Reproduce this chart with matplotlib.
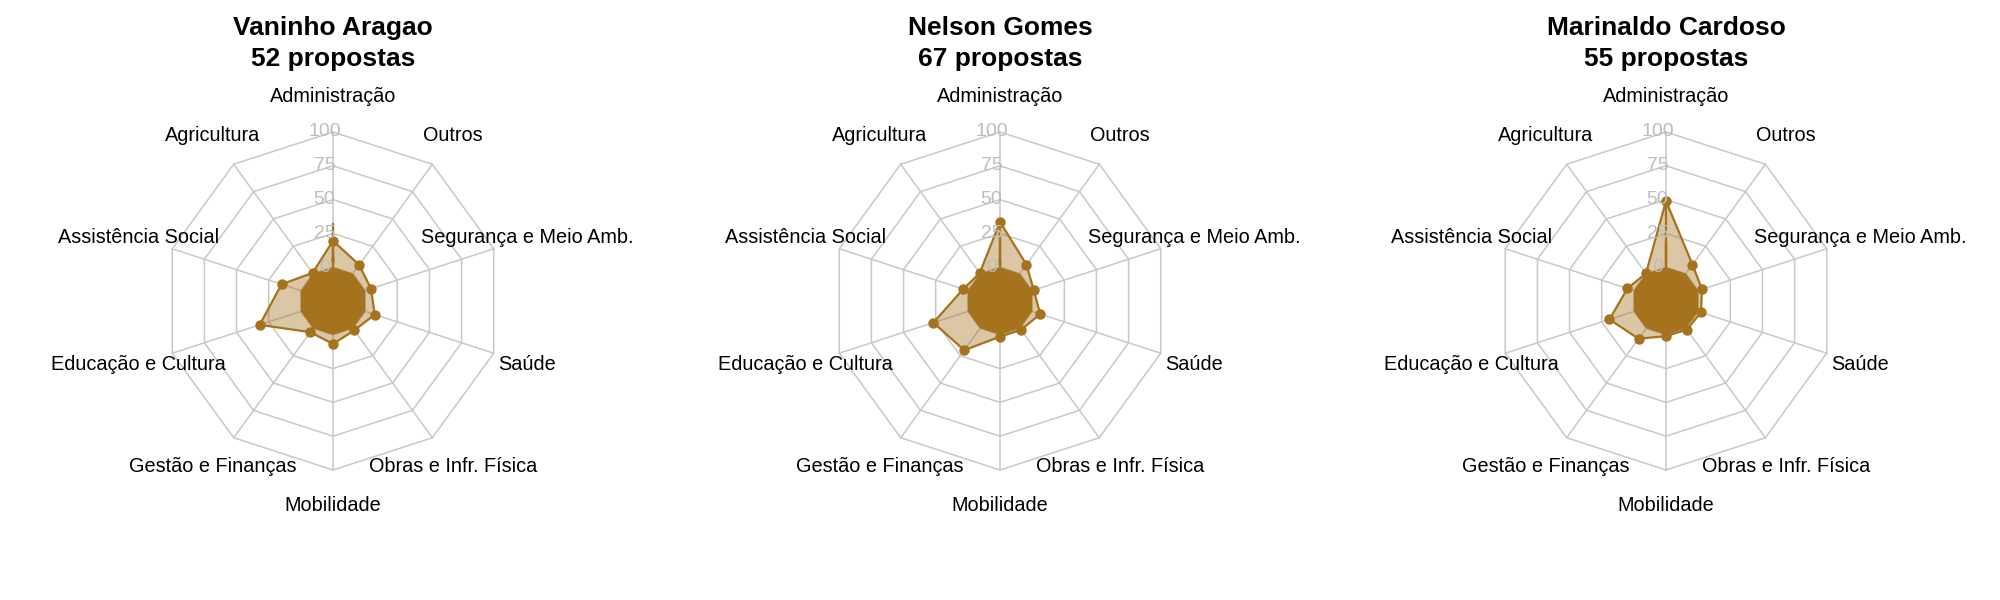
import numpy as np
import matplotlib
matplotlib.use("Agg")
import matplotlib.pyplot as plt

plt.rcParams['font.family'] = ['Liberation Sans', 'DejaVu Sans']

categories = ["Administração", "Outros", "Segurança e Meio Amb.", "Saúde",
              "Obras e Infr. Física", "Mobilidade", "Gestão e Finanças",
              "Educação e Cultura", "Assistência Social", "Agricultura"]

candidates = ["Vaninho Aragao", "Nelson Gomes", "Marinaldo Cardoso"]
n_propostas = [52, 67, 55]

vaninho = [19.5, 8.0, 4.5, 7.5, 1.8, 6.8, 3.5, 32.0, 15.0, 0.7]
nelson = [33.5, 8.3, 1.2, 6.3, 1.4, 1.4, 20.0, 26.8, 3.6, 0.5]
marinaldo = [49.0, 8.3, 3.0, 2.2, 1.2, 1.0, 9.5, 19.0, 5.0, 0.2]
series = [vaninho, nelson, marinaldo]

tick_labels = ["0", "25", "50", "75", "100"]
vmin, vmax = -25, 100

LINE = "#A5731E"
GRID = "#C8C8C8"
TICK = "#BDBDBD"

W, H = 2000, 600
fig = plt.figure(figsize=(20, 6), dpi=100)

centers_x = [333, 1000, 1666]
cy_top = 301
unit = 169.0

n = len(categories)
theta = np.deg2rad(90 - 36 * np.arange(n))
ct, st = np.cos(theta), np.sin(theta)

for i, (name, npro, vals) in enumerate(zip(candidates, n_propostas, series)):
    cx = centers_x[i]
    ax = fig.add_axes([(cx - 300) / W, 0, 600 / W, 1])
    ax.set_xlim(-300 / unit, 300 / unit)
    ax.set_ylim(-(H - cy_top) / unit, cy_top / unit)
    ax.axis("off")

    # grid polygons
    for k in range(1, 6):
        rr = k / 5
        xs = np.append(rr * ct, rr * ct[0])
        ys = np.append(rr * st, rr * st[0])
        ax.plot(xs, ys, color=GRID, lw=1.1, zorder=1)
    for j in range(n):
        ax.plot([0, ct[j]], [0, st[j]], color=GRID, lw=1.1, zorder=1)

    # data
    v = np.array(vals)
    r = (v - vmin) / (vmax - vmin)
    xs = np.append(r * ct, r * ct[0])
    ys = np.append(r * st, r * st[0])
    ax.fill(xs, ys, color=LINE, alpha=0.4, lw=0, zorder=2)
    r0 = (0 - vmin) / (vmax - vmin)
    ax.fill(r0 * ct, r0 * st, color=LINE, lw=0, zorder=3)
    ax.plot(xs, ys, color=LINE, lw=1.6, zorder=4)
    ax.plot(r * ct, r * st, 'o', color=LINE, ms=6.5, zorder=5)

    # tick labels
    for k, lab in enumerate(tick_labels):
        ax.text(-0.05, (k + 1) / 5, lab, color=TICK, fontsize=14,
                ha="center", va="center", zorder=6)

    # category labels
    for j, cat in enumerate(categories):
        ax.text(1.21 * ct[j], 1.21 * st[j], cat, fontsize=14.3,
                ha="center", va="center", color="black")

    ax.text(0, (cy_top - 43.5) / unit, f"{name}\n{npro} propostas",
            fontsize=19, fontweight="bold", ha="center", va="center",
            linespacing=1.32)

fig.savefig("out.png", dpi=100, facecolor="white")
